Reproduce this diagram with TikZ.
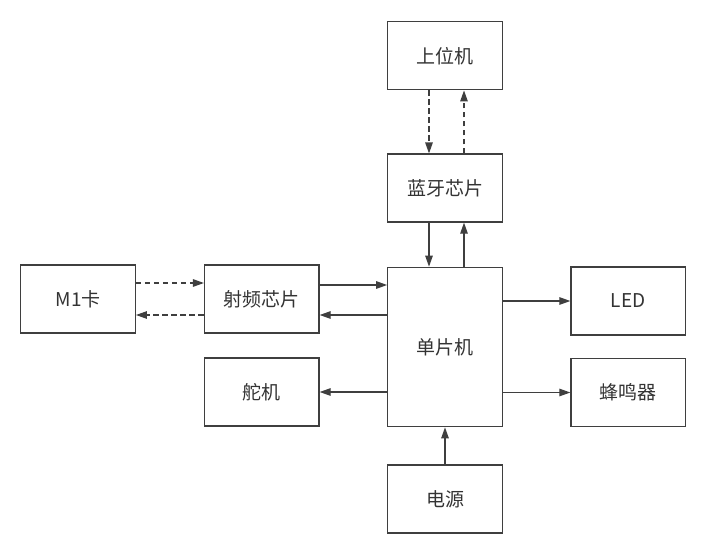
\documentclass[tikz,border=0pt]{standalone}
\usepackage{fontspec}
\setmainfont{Noto Sans CJK SC}
\usetikzlibrary{arrows.meta,positioning}
\definecolor{linegray}{HTML}{3F3F3F}
\definecolor{textgray}{HTML}{333333}
\tikzset{%
  >={Triangle[width=7.5pt,length=11pt]},
  % Specifications for style of nodes:
            box/.style = {rectangle, draw=linegray, line width=1.2pt,
                           minimum width=114.5pt, minimum height=68pt,
                           text centered, text=textgray,
                           font=\fontsize{19}{21}\selectfont},
         bigbox/.style = {box, minimum height=159.5pt},
       solidarr/.style = {->, draw=linegray, line width=1.2pt},
      dashedarr/.style = {solidarr, dash pattern=on 5.5pt off 3.5pt}
}
\begin{document}
\begin{tikzpicture}[x=1pt, y=1pt]
  \useasboundingbox (0,0) rectangle (708,-556);

  \node (mcu)    [bigbox] at (445,-347)                    {单片机};
  \node (bt)     [box, above=44pt of mcu]                  {蓝牙芯片};
  \node (host)   [box, above=63pt of bt]                   {上位机};
  \node (power)  [box, below=37pt of mcu]                  {电源};
  \node (rf)     [box, left=67.5pt of mcu, yshift=48pt]    {射频芯片};
  \node (servo)  [box, left=67.5pt of mcu, yshift=-45pt]   {舵机};
  \node (card)   [box, left=68pt of rf]                    {M1卡};
  \node (led)    [box, right=67.5pt of mcu, yshift=46pt]   {LED};
  \node (buzzer) [box, right=67.5pt of mcu, yshift=-45.5pt] {蜂鸣器};

    % wireless links
    \draw[dashedarr] ([xshift=-16pt]host.south) -- ([xshift=-16pt]bt.north);
    \draw[dashedarr] ([xshift=19pt]bt.north) -- ([xshift=19pt]host.south);
    \draw[dashedarr] ([yshift=16pt]card.east) -- ([yshift=16pt]rf.west);
    \draw[dashedarr] ([yshift=-16pt]rf.west) -- ([yshift=-16pt]card.east);

    % wired links
    \draw[solidarr] ([xshift=-16pt]bt.south) -- ([xshift=-16pt]bt.south |- mcu.north);
    \draw[solidarr] ([xshift=19pt]bt.south |- mcu.north) -- ([xshift=19pt]bt.south);
    \draw[solidarr] ([yshift=14pt]rf.east) -- ([yshift=14pt]rf.east -| mcu.west);
    \draw[solidarr] ([yshift=-16pt]rf.east -| mcu.west) -- ([yshift=-16pt]rf.east);
    \draw[solidarr] (servo.east -| mcu.west) -- (servo.east);
    \draw[solidarr] (led.west -| mcu.east) -- (led.west);
    \draw[solidarr] (buzzer.west -| mcu.east) -- (buzzer.west);
    \draw[solidarr] (power) -- (mcu);
\end{tikzpicture}
\end{document}
